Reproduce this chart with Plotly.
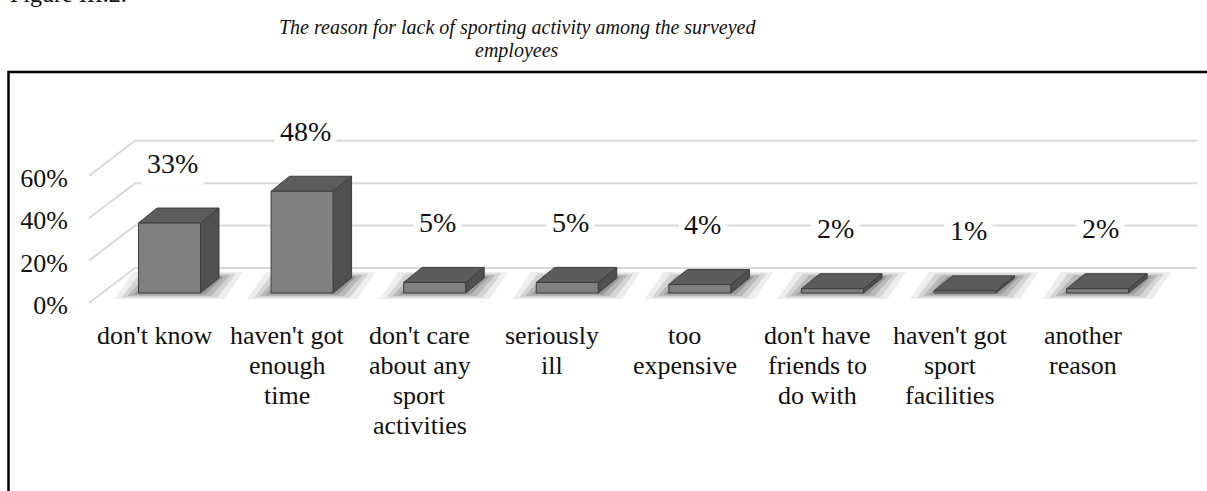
import plotly.graph_objects as go

# ---- data -------------------------------------------------------------
categories = [
    "don't know",
    "haven't got<br>enough<br>time",
    "don't care<br>about any<br>sport<br>activities",
    "seriously<br>ill",
    "too<br>expensive",
    "don't have<br>friends to<br>do with",
    "haven't got<br>sport<br>facilities",
    "another<br>reason",
]
shares = [33, 48, 5, 5, 4, 2, 1, 2]
y_ticks = [0, 20, 40, 60]
y_tick_text = ["0%", "20%", "40%", "60%"]
title_lines = [
    "The reason for lack of sporting activity among the surveyed",
    "employees",
]
figure_number = "Figure III.2."

# ---- canvas & axes ----------------------------------------------------
W, H = 1207, 491
M_L, M_R, M_T, M_B = 80, 7, 130, 181
PLOT_W = W - M_L - M_R
PLOT_H = H - M_T - M_B
X_RANGE = [-0.675, 7.772]
Y_RANGE = [-8.02, 76.9]
UX = (X_RANGE[1] - X_RANGE[0]) / PLOT_W   # category units per pixel
UY = (Y_RANGE[1] - Y_RANGE[0]) / PLOT_H   # percent per pixel


def paper_x(px):
    return (px - M_L) / PLOT_W


def paper_y(py):
    return (H - M_B - py) / PLOT_H


def data_to_paper_y(v):
    return (v - Y_RANGE[0]) / (Y_RANGE[1] - Y_RANGE[0])


# 3-D look: bar size and depth offsets
BAR_W = 62 * UX
DX = 18.5 * UX
DY = 15 * UY
FLOOR_FRONT = -10 * UY
WALL_BACK = 25 * UY
WALL_X_FRONT = X_RANGE[0] + 9 * UX
WALL_X_BACK = X_RANGE[0] + 55 * UX
GRID_END_X = X_RANGE[1] - 3 * UX

FONT = "Liberation Serif, Times New Roman, serif"
TEXT_COLOR = "#111111"
OUTLINE = "#3d3d3d"

fig = go.Figure()

# gridlines: diagonal along the side wall, then flat along the back wall
gx, gy = [], []
for g in y_ticks:
    gx += [WALL_X_FRONT, WALL_X_BACK, GRID_END_X, None]
    gy += [g + FLOOR_FRONT, g + WALL_BACK, g + WALL_BACK, None]
fig.add_trace(go.Scatter(x=gx, y=gy, mode="lines",
                         line=dict(color="#d9d9d9", width=2),
                         hoverinfo="skip", showlegend=False))

# soft floor shadows under each bar
shadow_layers = [(24, 6, 0.07), (17, 4.5, 0.10), (11, 3, 0.13), (5, 1.5, 0.17)]
for ex, ey, alpha in shadow_layers:
    sx, sy = [], []
    for i, v in enumerate(shares):
        xl, xr = i - BAR_W / 2, i + BAR_W / 2
        sx += [xl - ex * UX, xr + ex * UX, xr + DX + ex * UX, xl + DX - ex * UX, xl - ex * UX, None]
        sy += [-ey * UY, -ey * UY, DY + ey * UY, DY + ey * UY, -ey * UY, None]
    fig.add_trace(go.Scatter(x=sx, y=sy, mode="lines", fill="toself",
                             fillcolor=f"rgba(0,0,0,{alpha})",
                             line=dict(width=0), hoverinfo="skip", showlegend=False))

# bar faces
fx, fy, tx, ty, rx, ry = [], [], [], [], [], []
for i, v in enumerate(shares):
    xl, xr = i - BAR_W / 2, i + BAR_W / 2
    fx += [xl, xr, xr, xl, xl, None]
    fy += [0, 0, v, v, 0, None]
    tx += [xl, xr, xr + DX, xl + DX, xl, None]
    ty += [v, v, v + DY, v + DY, v, None]
    rx += [xr, xr + DX, xr + DX, xr, xr, None]
    ry += [0, DY, v + DY, v, 0, None]

for xs, ys, col in [(rx, ry, "#505050"), (tx, ty, "#5c5c5c"), (fx, fy, "#808080")]:
    fig.add_trace(go.Scatter(x=xs, y=ys, mode="lines", fill="toself",
                             fillcolor=col, line=dict(color=OUTLINE, width=1),
                             hoverinfo="skip", showlegend=False))

annotations = []

# value labels above the bars
for i, v in enumerate(shares):
    annotations.append(dict(
        x=i + 3 * UX, y=v + 60 * UY, xref="x", yref="y",
        text=f"{v}%", showarrow=False, bgcolor="white", borderpad=5,
        font=dict(family=FONT, size=28, color=TEXT_COLOR),
        xanchor="center", yanchor="middle"))

# category labels in front of the floor
LINE_PX = 30
FIRST_LINE_PX = 42
for i, label in enumerate(categories):
    for k, line in enumerate(label.split("<br>")):
        annotations.append(dict(
            x=i - 15 * UX,
            y=data_to_paper_y(-(FIRST_LINE_PX + k * LINE_PX) * UY),
            xref="x", yref="paper", text=line, showarrow=False,
            font=dict(family=FONT, size=26, color=TEXT_COLOR),
            xanchor="center", yanchor="middle"))

# title and figure number
for k, line in enumerate(title_lines):
    annotations.append(dict(
        x=paper_x(517), y=paper_y(27 + 23 * k), xref="paper", yref="paper",
        text=f"<i>{line}</i>", showarrow=False,
        font=dict(family=FONT, size=20, color=TEXT_COLOR),
        xanchor="center", yanchor="middle"))
annotations.append(dict(
    x=paper_x(8), y=paper_y(-6), xref="paper", yref="paper",
    text=figure_number, showarrow=False,
    font=dict(family=FONT, size=24, color=TEXT_COLOR),
    xanchor="left", yanchor="middle"))

fig.update_layout(
    width=W, height=H,
    margin=dict(l=M_L, r=M_R, t=M_T, b=M_B, pad=0),
    paper_bgcolor="white", plot_bgcolor="white",
    xaxis=dict(range=X_RANGE, visible=False, fixedrange=True),
    yaxis=dict(range=Y_RANGE, showgrid=False, zeroline=False, showline=False,
               tickvals=[g + FLOOR_FRONT - 2 * UY for g in y_ticks],
               ticktext=y_tick_text, ticks="", ticklabelstandoff=11,
               tickfont=dict(family=FONT, size=26, color=TEXT_COLOR),
               fixedrange=True),
    annotations=annotations,
    shapes=[dict(type="rect", xref="paper", yref="paper",
                 x0=paper_x(8.5), y0=paper_y(72), x1=paper_x(1240), y1=paper_y(530),
                 line=dict(color="black", width=2.5), fillcolor="rgba(0,0,0,0)")],
    showlegend=False,
)

fig.write_html("out.html")
